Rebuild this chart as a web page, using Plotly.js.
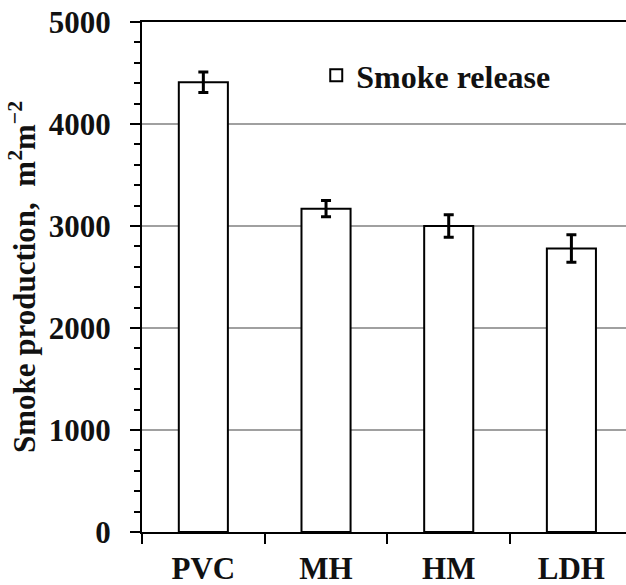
<!DOCTYPE html>
<html>
<head>
<meta charset="utf-8">
<script src="https://cdn.plot.ly/plotly-3.0.1.min.js"></script>
<style>html,body{margin:0;padding:0;background:#fff;}#chart{width:626px;height:585px;}</style>
</head>
<body>
<div id="chart"></div>
<script>
const categories = ['PVC', 'MH', 'HM', 'LDH'];
const smokeRelease = [4410, 3170, 3000, 2780];
const smokeError = [100, 80, 110, 135];
const seriesName = 'Smoke release';
const yTickValues = [0, 1000, 2000, 3000, 4000, 5000];

const serif = 'Liberation Serif, Times New Roman, serif';
const ink = '#111111';

const trace = {
  type: 'bar',
  name: seriesName,
  x: categories,
  y: smokeRelease,
  error_y: {type: 'data', array: smokeError, visible: true, color: '#000', thickness: 3, width: 5},
  marker: {color: '#ffffff', line: {color: '#000000', width: 2}},
  showlegend: true
};

const layout = {
  width: 626, height: 585,
  margin: {l: 142, r: 0, t: 22, b: 53},
  paper_bgcolor: '#fff', plot_bgcolor: '#fff',
  font: {family: serif, color: ink, weight: 'bold'},
  bargap: 0.6,
  showlegend: true,
  legend: {x: 0.36, y: 0.895, xanchor: 'left', yanchor: 'middle', bgcolor: 'rgba(0,0,0,0)',
           font: {family: serif, size: 32, color: ink, weight: 'bold'}},
  xaxis: {
    type: 'category', range: [-0.5, 3.445],
    tickson: 'boundaries', ticks: 'outside', ticklen: 10, tickwidth: 2, tickcolor: '#000',
    ticklabelstandoff: 8,
    showline: true, linewidth: 2, linecolor: '#000', mirror: true,
    showgrid: false, zeroline: false,
    tickfont: {family: serif, size: 31, color: ink, weight: 'bold'}
  },
  yaxis: {
    range: [0, 5000], tickvals: yTickValues, ticktext: yTickValues.map(String),
    ticks: 'outside', ticklen: 10, tickwidth: 2, tickcolor: '#000', ticklabelstandoff: 13,
    showline: true, linewidth: 2, linecolor: '#000',
    showgrid: true, gridcolor: '#a0a0a0', gridwidth: 1.5, zeroline: false,
    minor: {dtick: 200, ticks: 'outside', ticklen: 6, tickwidth: 2, tickcolor: '#000', showgrid: false},
    tickfont: {family: serif, size: 31, color: ink, weight: 'bold'},
    title: {text: 'Smoke production,&nbsp; m<sup>2</sup>m<sup>−2</sup>', standoff: 4,
            font: {family: serif, size: 31, color: ink, weight: 'bold'}}
  }
};

Plotly.newPlot('chart', [trace], layout, {staticPlot: true, displayModeBar: false});
</script>
</body>
</html>
